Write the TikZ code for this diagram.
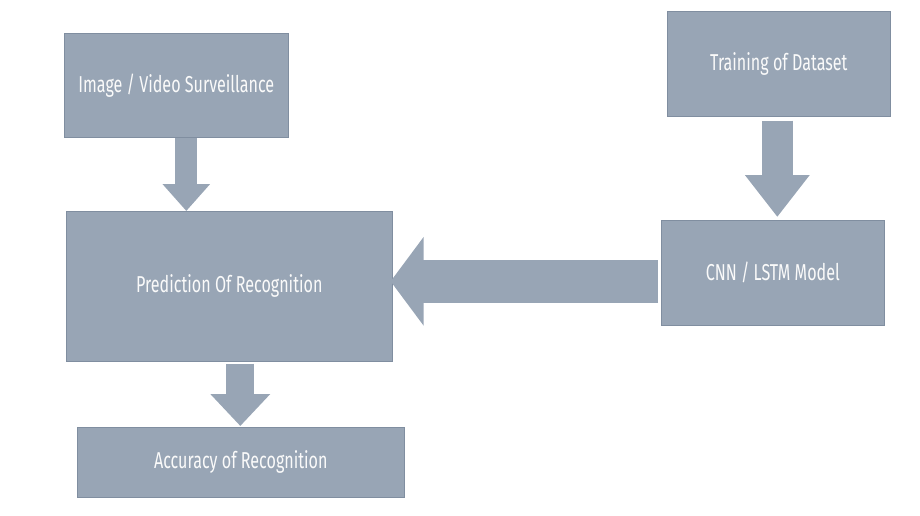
\documentclass[tikz,border=0pt]{standalone}
\usepackage{fontspec}
\setmainfont{Fira Sans}[FakeStretch=0.7]
\usetikzlibrary{arrows.meta}
\definecolor{boxgray}{RGB}{152,165,181}
\definecolor{edgegray}{RGB}{128,142,160}

\tikzset{
    stage/.style={draw=edgegray, line width=0.6pt, fill=boxgray, text=white!96!gray,
        anchor=north west, inner sep=0pt, align=center,
        font=\fontsize{23}{25}\selectfont},
    blockarrow/.style={boxgray, line width=#1}
}

\begin{document}
\begin{tikzpicture}[x=1pt, y=-1pt]

        \useasboundingbox (0,0) rectangle (920,515);  %Rahmen

        % die Kaesten
        \node[stage, minimum width=224pt, minimum height=104pt] (image) at (64,33) {Image / Video Surveillance};
        \node[stage, minimum width=223pt, minimum height=105pt] (train) at (667,11) {Training of Dataset};
        \node[stage, minimum width=326pt, minimum height=150pt] (pred) at (66,211) {Prediction Of Recognition};
        \node[stage, minimum width=223pt, minimum height=105pt] (model) at (661,220) {CNN / LSTM Model};
        \node[stage, minimum width=327pt, minimum height=70pt] (acc) at (77,427) {Accuracy of Recognition};

        % die Blockpfeile
        \draw[blockarrow=22pt, -{Triangle[width=46pt, length=27pt]}]
            ([xshift=10pt]image.south) -- ([xshift=-43pt]pred.north);  %Bild -> Vorhersage
        \draw[blockarrow=31pt, -{Triangle[width=62pt, length=42pt]}]
            ([xshift=-1.5pt, yshift=-4pt]train.south) -- ([xshift=4.5pt, yshift=3pt]model.north);  %Training -> Modell
        \draw[blockarrow=43pt, -{Triangle[width=87pt, length=33pt]}]
            ([xshift=-3pt, yshift=-8.5pt]model.west) -- ([xshift=-2pt, yshift=5pt]pred.east);  %Modell -> Vorhersage
        \draw[blockarrow=28pt, -{Triangle[width=58pt, length=32pt]}]
            ([xshift=11pt, yshift=-2pt]pred.south) -- ([xshift=-0.5pt, yshift=1pt]acc.north);  %Vorhersage -> Genauigkeit

    \end{tikzpicture}
\end{document}
